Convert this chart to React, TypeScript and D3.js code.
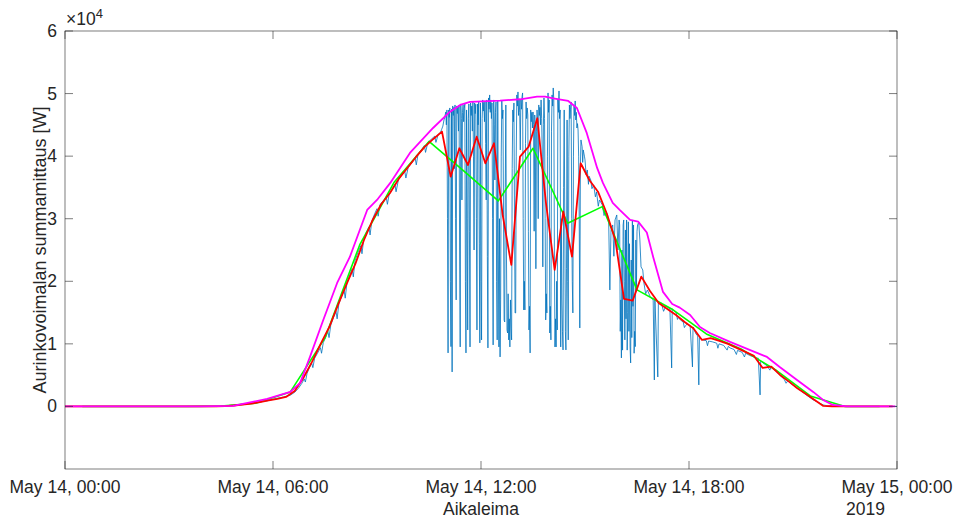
import React from "react";
import * as d3 from "d3";

const W = 958;
const H = 519;
const M = { left: 65, right: 897, top: 31, bottom: 469 };

// x axis: minutes since May 14, 00:00
const xTickMinutes = [0, 360, 720, 1080, 1440];
const xTickLabels = ["May 14, 00:00", "May 14, 06:00", "May 14, 12:00", "May 14, 18:00", "May 15, 00:00"];
const yTickValues = [0, 10000, 20000, 30000, 40000, 50000, 60000];
const yTickLabels = ["0", "1", "2", "3", "4", "5", "6"];

// measured power [minute, W]
const measured: [number, number][] = [
  [0, 0], [258, 0], [275, 80], [290, 200], [305, 330], [320, 500], [335, 700], [350, 900], [365, 1250], [378, 1500],
  [390, 1800], [398, 2300], [404, 2900], [410, 3700], [414, 4400], [416, 3900], [419, 5300], [423, 6200], [427, 6900],
  [429, 6200], [432, 7700], [437, 8500], [442, 9400], [444, 8500], [447, 10200], [451, 11000], [455, 12000], [457, 11000],
  [460, 13000], [465, 14300], [469, 15200], [471, 14000], [474, 16400], [478, 17400], [483, 18600], [485, 17300],
  [488, 19800], [492, 20800], [497, 22000], [499, 20700], [502, 23300], [507, 24600], [512, 25700], [514, 24400],
  [517, 26700], [521, 27700], [526, 28700], [528, 27400], [531, 29600], [536, 30800], [540, 31600], [542, 30400],
  [545, 32200], [550, 32800], [556, 33400], [558, 32300], [561, 33900], [566, 34600], [571, 35500], [573, 34300],
  [577, 36200], [582, 36900], [588, 37600], [590, 36500], [594, 38200], [600, 38900], [606, 39700], [608, 38600],
  [611, 40300], [617, 41000], [622, 41700], [624, 40600], [628, 42200], [634, 42700], [640, 43200], [642, 42200],
  [646, 43500], [650, 43800],
  [652, 44300], [654, 44800], [656, 45800], [657, 46100], [659, 47060], [660, 45000], [661, 47380], [662, 30000],
  [663, 8550], [664, 47380], [665, 46200], [666, 47700], [667, 20000], [668, 9560], [669, 47500], [670, 5510],
  [671, 48020], [672, 46500], [673, 47800], [674, 38000], [675, 48180], [676, 30000], [677, 17020], [678, 48020],
  [679, 46800], [680, 47900], [681, 44000], [682, 48180], [683, 25000], [684, 9510], [685, 48340], [686, 46000],
  [687, 33000], [688, 47000], [689, 48180], [690, 45500], [691, 47600], [692, 48340], [693, 20000], [694, 8550],
  [695, 47380], [696, 30000], [697, 12220], [698, 46000], [699, 48340], [700, 28000], [701, 9510], [702, 48500],
  [703, 46500], [704, 48000], [705, 44000], [706, 48660], [707, 40000], [708, 25000], [709, 48500], [710, 46800],
  [711, 48300], [712, 30000], [713, 12220], [714, 48340], [715, 45000], [716, 48660], [717, 26000], [718, 10150],
  [719, 48500], [720, 20000], [721, 10630], [722, 46000], [723, 48980], [724, 47200], [725, 48600], [726, 45500],
  [727, 48820], [728, 42000], [729, 33000], [730, 48980], [731, 24000], [732, 9350], [733, 49300], [734, 47500],
  [735, 49780], [736, 47000], [737, 48980], [738, 46000], [739, 48500], [740, 30000], [741, 9830], [742, 48980],
  [743, 45000], [744, 36190], [745, 47000], [746, 48660], [747, 20000], [748, 10630], [749, 48820], [750, 25000],
  [751, 9510], [752, 30000], [753, 7910], [754, 17020], [755, 40000], [756, 48820], [757, 46000], [758, 47380],
  [759, 30000], [760, 13820], [761, 13500], [762, 35000], [763, 48180], [764, 25000], [765, 12220], [766, 11740],
  [767, 18000], [768, 10630], [769, 14000], [770, 9510], [771, 17020], [772, 12500], [773, 10630], [774, 38000],
  [775, 47380], [776, 45500], [777, 48500], [778, 30000], [779, 14940], [780, 14940], [781, 40000], [782, 49780],
  [783, 48000], [784, 50260], [785, 46500], [786, 48980], [787, 47000], [788, 40990], [789, 48980], [790, 47500],
  [791, 49500], [792, 50100], [793, 30000], [794, 15420], [795, 20000], [796, 15420], [797, 42000], [798, 48660],
  [799, 46000], [800, 47700], [801, 46580], [802, 28000], [803, 12220], [804, 16000], [805, 8550], [806, 47380],
  [807, 45500], [808, 47000], [809, 44500], [810, 47060], [811, 45000], [812, 28000], [813, 46580], [814, 45000],
  [815, 22000], [816, 44000], [817, 47380], [818, 45800], [819, 30000], [820, 48180], [821, 46500], [822, 47800],
  [823, 45000], [824, 48980], [825, 46000], [826, 40000], [827, 22300], [828, 45000], [829, 49300], [830, 46000],
  [831, 30000], [832, 13820], [833, 18000], [834, 14940], [835, 40000], [836, 50100], [837, 47000], [838, 48980],
  [839, 11740], [840, 16000], [841, 10630], [842, 44000], [843, 49780], [844, 48000], [845, 50900], [846, 48980],
  [847, 25000], [848, 9510], [849, 14000], [850, 9510], [851, 20000], [852, 12220], [853, 48980], [854, 47000],
  [855, 50420], [856, 46000], [857, 47380], [858, 9510], [859, 30000], [860, 17020], [861, 12000], [862, 9030],
  [863, 35000], [864, 47380], [865, 30000], [866, 12000], [867, 9030], [868, 22000], [869, 45780], [870, 20000],
  [871, 10630], [872, 40000], [873, 48180], [874, 46000], [875, 47500], [876, 48660], [877, 30000], [878, 20000],
  [879, 14940], [880, 40000], [881, 48180], [882, 46500], [883, 48820], [884, 45780], [885, 47000], [886, 44500],
  [887, 45200], [888, 44180], [889, 40000], [890, 30000], [891, 12540], [892, 38000], [893, 42590], [895, 41500],
  [896, 39000], [897, 40990], [899, 40000], [900, 39390], [902, 37000], [904, 37790], [906, 35500], [907, 36800],
  [910, 36190], [912, 34800], [915, 35400], [918, 33500], [920, 34280], [923, 32000], [925, 33000], [930, 32200],
  [933, 30500], [935, 31400], [939, 30600], [941, 29480], [943, 18610], [945, 28200], [948, 29000], [950, 24000],
  [952, 29800], [955, 30600], [957, 25000], [959, 29800], [960, 29000], [961, 12000], [962, 17020], [963, 7750],
  [964, 25000], [965, 9000], [966, 29000], [967, 29800], [968, 20000], [969, 10630], [970, 28200], [971, 14000],
  [972, 29800], [973, 9000], [974, 15000], [975, 29500], [976, 12000], [977, 26000], [978, 9500], [979, 6950],
  [980, 23400], [981, 11000], [982, 29800], [983, 16000], [984, 29000], [985, 8500], [986, 12000], [987, 9560],
  [988, 26600], [989, 18610], [990, 28000], [991, 29000], [993, 29480], [995, 26600], [997, 22300], [1000, 21810],
  [1002, 19730], [1005, 18000], [1008, 18610], [1013, 17500], [1018, 17020], [1020, 4230], [1021, 17020],
  [1026, 4710], [1027, 16540], [1032, 16540], [1036, 15200], [1040, 16060], [1047, 15580], [1050, 6150],
  [1051, 15580], [1058, 14940], [1060, 13900], [1062, 14300], [1065, 13820], [1070, 13500], [1072, 12600],
  [1074, 12900], [1077, 13200], [1082, 12860], [1086, 6310], [1087, 12700], [1092, 11600], [1095, 11270],
  [1097, 3440], [1098, 11000], [1104, 10630], [1110, 10500], [1112, 9700], [1114, 10450], [1121, 10310],
  [1128, 10100], [1130, 9300], [1132, 10000], [1140, 9750], [1146, 9000], [1148, 9600], [1151, 9350],
  [1158, 9100], [1162, 8300], [1164, 8950], [1172, 8650], [1176, 7900], [1178, 8500], [1185, 8150], [1192, 7900],
  [1196, 7750], [1200, 7700], [1203, 1840], [1204, 7300], [1208, 6950], [1215, 6500], [1220, 5800], [1222, 6300],
  [1230, 5700], [1237, 5030], [1245, 4300], [1248, 3700], [1251, 4100], [1260, 3400], [1267, 2960], [1275, 2400],
  [1285, 1700], [1295, 1040], [1305, 600], [1312, 240], [1320, 100], [1330, 0], [1440, 0],
];

// 15-minute average [minute, W]
const avg15: [number, number][] = [
  [0, 0], [262.5, 0], [277.5, 50], [292.5, 150], [307.5, 300], [322.5, 450], [337.5, 700], [352.5, 950],
  [367.5, 1200], [382.5, 1520], [397.5, 2480], [412.5, 4550], [427.5, 7110], [442.5, 9990], [457.5, 12700],
  [472.5, 16220], [487.5, 19580], [502.5, 22770], [517.5, 26600], [532.5, 29800], [547.5, 32360], [562.5, 34120],
  [577.5, 36360], [592.5, 38110], [607.5, 39870], [622.5, 41470], [637.5, 42750], [652.5, 43910], [667.5, 36720],
  [682.5, 41260], [697.5, 38590], [712.5, 43110], [727.5, 38860], [742.5, 42060], [757.5, 30600], [772.5, 22610],
  [787.5, 39920], [802.5, 41520], [817.5, 46050], [832.5, 32470], [847.5, 21810], [862.5, 31130], [877.5, 23940],
  [892.5, 38860], [907.5, 36190], [922.5, 34320], [937.5, 30870], [952.5, 26610], [967.5, 17180], [982.5, 16910],
  [997.5, 20740], [1012.5, 18460], [1027.5, 16540], [1042.5, 15580], [1057.5, 14620], [1072.5, 13500],
  [1087.5, 12500], [1102.5, 10630], [1117.5, 10900], [1132.5, 10470], [1147.5, 9990], [1162.5, 9350],
  [1177.5, 8710], [1192.5, 8070], [1207.5, 6150], [1222.5, 6360], [1237.5, 5030], [1252.5, 4000], [1267.5, 2910],
  [1282.5, 2000], [1297.5, 1040], [1312.5, 80], [1327.5, 30], [1342.5, 0], [1432.5, 0],
];

// hourly average [minute, W]
const avg60: [number, number][] = [
  [30, 0], [90, 0], [150, 0], [210, 0], [270, 50], [330, 500], [390, 2320], [450, 10950], [510, 25810],
  [570, 35870], [630, 42350], [690, 37630], [750, 32850], [810, 41260], [870, 29280], [930, 31930], [990, 18620],
  [1050, 15580], [1110, 11590], [1170, 9190], [1230, 5830], [1290, 1680], [1350, 0], [1410, 0],
];

// clear-sky reference [minute, W]
const clearSky: [number, number][] = [
  [0, 0], [234, 0], [291, 100], [350, 1200], [390, 2320], [407, 3760], [424, 7910], [447, 13820], [471, 19730],
  [493, 23890], [523, 31400], [540, 33000], [563, 35720], [597, 40510], [637, 44500], [666, 47060], [684, 48180],
  [701, 48660], [753, 48870], [788, 49090], [817, 49510], [831, 49510], [845, 49250], [871, 48820], [886, 47700],
  [903, 43710], [921, 38120], [931, 35720], [948, 32520], [960, 31400], [978, 29800], [992, 29530], [1007, 27800],
  [1018, 23890], [1035, 18300], [1051, 16380], [1064, 15790], [1082, 14620], [1099, 12700], [1116, 11740],
  [1151, 10310], [1215, 7910], [1237, 6310], [1267, 4230], [1295, 2320], [1312, 1040], [1329, 240], [1353, 0],
  [1437, 0],
];

const FONT = "'Liberation Sans', Arial, Helvetica, sans-serif";
const AX = "#262626";

export default function App() {
  const x = d3.scaleLinear().domain([0, 1440]).range([M.left, M.right]);
  const y = d3.scaleLinear().domain([-10000, 60000]).range([M.bottom, M.top]);
  const line = d3
    .line<[number, number]>()
    .x((d) => x(d[0]))
    .y((d) => y(d[1]));
  const tl = 8;

  return (
    <svg
      width={W}
      height={H}
      viewBox={`0 0 ${W} ${H}`}
      style={{ position: "absolute", left: 0, top: 0, background: "#fff" }}
      fontFamily={FONT}
    >
      <rect x={0} y={0} width={W} height={H} fill="#fff" />
      <defs>
        <clipPath id="plotclip">
          <rect x={M.left} y={M.top} width={M.right - M.left} height={M.bottom - M.top} />
        </clipPath>
      </defs>
      <g clipPath="url(#plotclip)" fill="none" strokeLinejoin="round">
        <path d={line(measured) || ""} stroke="#0072BD" strokeWidth={0.8} />
        <path d={line(avg60) || ""} stroke="#00FF00" strokeWidth={1.6} />
        <path d={line(avg15) || ""} stroke="#FF0000" strokeWidth={1.8} />
        <path d={line(clearSky) || ""} stroke="#FF00FF" strokeWidth={1.8} />
      </g>

      <rect
        x={M.left}
        y={M.top}
        width={M.right - M.left}
        height={M.bottom - M.top}
        fill="none"
        stroke={AX}
        strokeWidth={0.6}
      />
      {xTickMinutes.map((t, i) => (
        <g key={"xt" + i}>
          <line x1={x(t)} x2={x(t)} y1={M.bottom} y2={M.bottom - tl} stroke={AX} strokeWidth={0.6} />
          <line x1={x(t)} x2={x(t)} y1={M.top} y2={M.top + tl} stroke={AX} strokeWidth={0.6} />
          <text x={x(t)} y={493} textAnchor="middle" fontSize={17.5} fill={AX}>
            {xTickLabels[i]}
          </text>
        </g>
      ))}
      {yTickValues.map((v, i) => (
        <g key={"yt" + i}>
          <line x1={M.left} x2={M.left + tl} y1={y(v)} y2={y(v)} stroke={AX} strokeWidth={0.6} />
          <line x1={M.right} x2={M.right - tl} y1={y(v)} y2={y(v)} stroke={AX} strokeWidth={0.6} />
          <text x={57} y={y(v) + 6} textAnchor="end" fontSize={17.5} fill={AX}>
            {yTickLabels[i]}
          </text>
        </g>
      ))}
      <text x={66} y={25} fontSize={17.5} fill={AX}>
        ×10
        <tspan dy={-7} fontSize={13}>
          4
        </tspan>
      </text>
      <text x={(M.left + M.right) / 2} y={515} textAnchor="middle" fontSize={17.5} fill={AX}>
        Aikaleima
      </text>
      <text x={x(1440) - 51} y={515} textAnchor="start" fontSize={17.5} fill={AX}>
        2019
      </text>
      <text
        transform={`translate(46, ${(M.top + M.bottom) / 2}) rotate(-90)`}
        textAnchor="middle"
        fontSize={18}
        fill={AX}
      >
        Aurinkovoimalan summamittaus [W]
      </text>
    </svg>
  );
}
